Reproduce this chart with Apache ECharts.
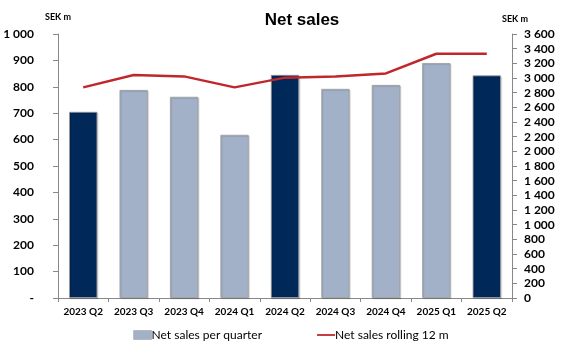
<!DOCTYPE html>
<html>
<head>
<meta charset="utf-8">
<script src="https://cdn.jsdelivr.net/npm/echarts@6/dist/echarts.min.js"></script>
<style>
html,body{margin:0;padding:0;background:#fff;}
#chart{width:582px;height:356px;}
</style>
</head>
<body>
<div id="chart"></div>
<script>
var categories = ['2023 Q2','2023 Q3','2023 Q4','2024 Q1','2024 Q2','2024 Q3','2024 Q4','2025 Q1','2025 Q2'];
var salesPerQuarter = [705, 788, 762, 618, 845, 792, 807, 890, 843];
var salesRolling12m = [2872, 3041, 3022, 2872, 3005, 3022, 3063, 3331, 3331];
var leftTicks = {min: 0, max: 1000, interval: 100};
var rightTicks = {min: 0, max: 3600, interval: 200};

function fmt(v){
  var s = String(Math.round(v));
  return s.replace(/\B(?=(\d{3})+(?!\d))/g, ' ');
}

var FONT = 'Lato';
var chart = echarts.init(document.getElementById('chart'), null, {renderer:'canvas'});
chart.setOption({
  animation: false,
  backgroundColor: '#fff',
  title: {
    text: 'Net sales', left: 297, top: 7, textAlign: 'center',
    textStyle: {fontFamily: 'Liberation Sans', fontWeight: 'bold', fontSize: 17, color: '#000'}
  },
  graphic: [
    {type:'text', left: 45, top: 13, style:{text:'SEK m', font:'bold 9px Lato', fill:'#000'}},
    {type:'text', left: 502, top: 15, style:{text:'SEK m', font:'bold 9px Lato', fill:'#000'}}
  ],
  legend: {
    bottom: 10, left: 'center',
    itemWidth: 18, itemHeight: 9, itemGap: 55,
    textStyle: {fontFamily: FONT, fontSize: 12, color: '#000', padding: [0,0,0,-5]},
    data: [
      {name: 'Net sales per quarter', icon: 'rect', itemStyle: {color: '#a2b1c8', borderColor:'#999', borderWidth:0.5}},
      {name: 'Net sales rolling 12 m', icon: 'path://M0,0 H20 V2 H0 Z', itemStyle: {color: '#c0272d'}}
    ]
  },
  grid: {left: 58, right: 70, top: 34, bottom: 58, containLabel: false},
  xAxis: {
    type: 'category', data: categories,
    axisLine: {lineStyle: {color: '#888', width: 1}},
    axisTick: {show: true, length: 4, lineStyle: {color: '#888'}},
    axisLabel: {interval: 0, fontFamily: FONT, fontWeight: 'bold', fontSize: 10, color: '#000', margin: 9}
  },
  yAxis: [
    {
      type: 'value', min: leftTicks.min, max: leftTicks.max, interval: leftTicks.interval,
      axisLine: {show: true, lineStyle: {color: '#888'}},
      axisTick: {show: true, length: 5, lineStyle: {color: '#888'}},
      splitLine: {show: false},
      axisLabel: {fontFamily: FONT, fontWeight: 'bold', fontSize: 12, color: '#000', margin: 24,
        formatter: function(v){ return v === 0 ? '-' : fmt(v); }}
    },
    {
      type: 'value', min: rightTicks.min, max: rightTicks.max, interval: rightTicks.interval,
      position: 'right',
      axisLine: {show: true, lineStyle: {color: '#888'}},
      axisTick: {show: true, length: 5, lineStyle: {color: '#888'}},
      splitLine: {show: false},
      axisLabel: {fontFamily: FONT, fontWeight: 'bold', fontSize: 12, color: '#000', margin: 12,
        formatter: function(v){ return fmt(v); }}
    }
  ],
  series: [
    {
      name: 'Net sales per quarter', type: 'bar', yAxisIndex: 0,
      data: salesPerQuarter, barWidth: '56%',
      itemStyle: {
        color: function(p){ return /Q2$/.test(p.name) ? '#002858' : '#a2b1c8'; },
        borderColor: '#9a9a9a', borderWidth: 0.8,
        shadowColor: 'rgba(0,0,0,0.15)', shadowBlur: 1, shadowOffsetX: 1, shadowOffsetY: 1
      }
    },
    {
      name: 'Net sales rolling 12 m', type: 'line', yAxisIndex: 1,
      data: salesRolling12m, symbol: 'none', showSymbol: false,
      lineStyle: {color: '#c0272d', width: 2.5},
      itemStyle: {color: '#c0272d'}
    }
  ]
});
</script>
</body>
</html>
